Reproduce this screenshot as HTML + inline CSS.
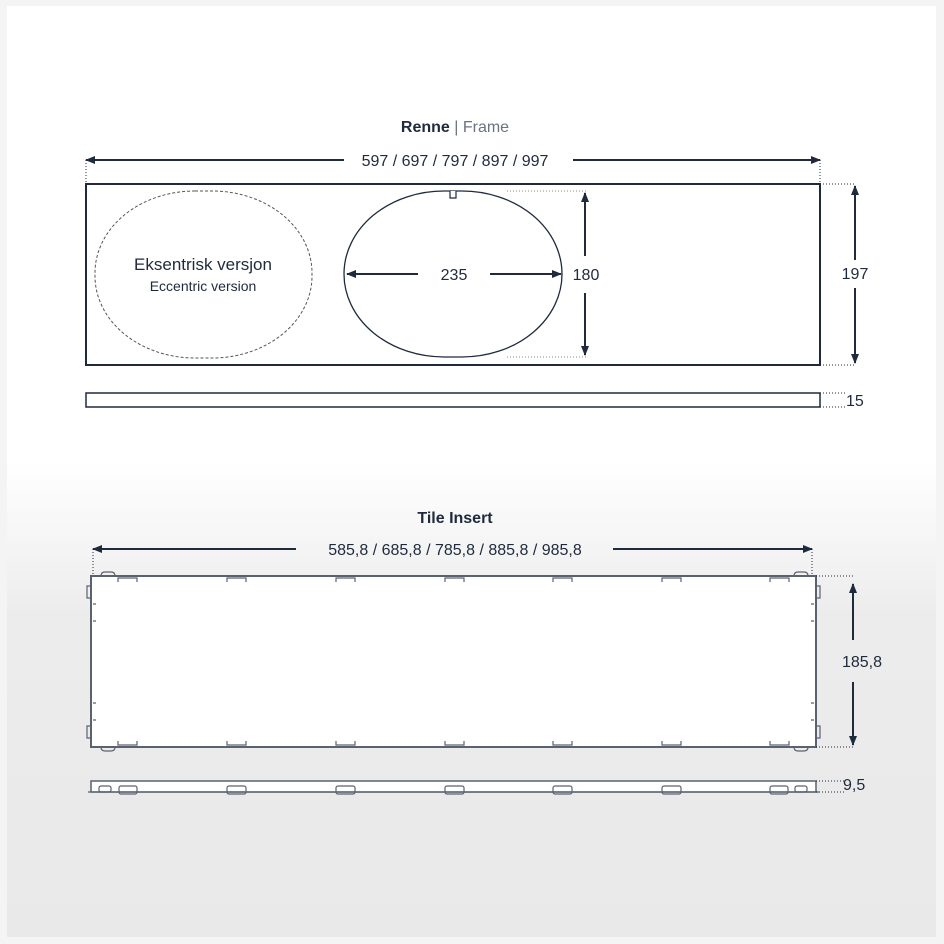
<!DOCTYPE html>
<html><head><style>
html,body{margin:0;padding:0;background:#f4f4f4;}
.c{position:absolute;left:7px;top:6px;width:929px;height:931px;background:linear-gradient(#fff 0,#fff 455px,#ececec 610px,#e9e9e9 931px);}
svg{position:absolute;left:0;top:0;}
text{font-family:"Liberation Sans",sans-serif;fill:#1f2a3c;}
</style></head><body>
<div class="c"></div>
<svg width="944" height="944" viewBox="0 0 944 944">
<defs>
<marker id="a" markerWidth="10" markerHeight="10" refX="9" refY="5" orient="auto-start-reverse" markerUnits="userSpaceOnUse"><path d="M0,1 L10,5 L0,9 Z" fill="#1f2a3c"/></marker>
</defs>
<g stroke="#1f2a3c" fill="none">
<text x="455" y="132" text-anchor="middle" font-size="16" font-weight="bold" stroke="none">Renne <tspan font-weight="normal" fill="#6b7280">| Frame</tspan></text>
<line x1="86" y1="160" x2="344" y2="160" stroke-width="2" marker-start="url(#a)"/>
<line x1="573" y1="160" x2="820" y2="160" stroke-width="2" marker-end="url(#a)"/>
<text x="455" y="166" text-anchor="middle" font-size="16" stroke="none">597 / 697 / 797 / 897 / 997</text>
<line x1="86" y1="160" x2="86" y2="184" stroke-width="1" stroke-dasharray="1 2"/>
<line x1="820" y1="160" x2="820" y2="184" stroke-width="1" stroke-dasharray="1 2"/>
<rect x="86" y="184" width="734" height="181" stroke-width="2"/>
<rect x="86" y="393" width="734" height="14" stroke-width="1.5"/>
<path d="M820 184 H855 M820 365 H855 M820 393 H845 M820 407 H845" stroke-width="1" stroke-dasharray="1 2"/>
<line x1="855" y1="186" x2="855" y2="260" stroke-width="2" marker-start="url(#a)"/>
<line x1="855" y1="288" x2="855" y2="363" stroke-width="2" marker-end="url(#a)"/>
<text x="855" y="279" text-anchor="middle" font-size="16" stroke="none">197</text>
<text x="846" y="406" font-size="16" stroke="none">15</text>
<rect x="95" y="191" width="217" height="167" rx="100" ry="82" stroke-width="1" stroke-dasharray="3 2" stroke="#555"/>
<text x="203" y="270" text-anchor="middle" font-size="17" stroke="none">Eksentrisk versjon</text>
<text x="203" y="291" text-anchor="middle" font-size="14" fill="#6b7280" stroke="none">Eccentric version</text>
<rect x="344" y="191" width="218" height="166" rx="100" ry="83" stroke-width="1.3"/>
<path d="M450 191 V198 H456 V191" stroke-width="1.2" fill="#fff"/>
<line x1="347" y1="274" x2="418" y2="274" stroke-width="2" marker-start="url(#a)"/>
<line x1="490" y1="274" x2="561" y2="274" stroke-width="2" marker-end="url(#a)"/>
<text x="454" y="280" text-anchor="middle" font-size="16" stroke="none">235</text>
<path d="M507 191 H586 M507 357 H586" stroke-width="1" stroke-dasharray="1 2" stroke="#888"/>
<line x1="585" y1="193" x2="585" y2="256" stroke-width="2" marker-start="url(#a)"/>
<line x1="585" y1="293" x2="585" y2="355" stroke-width="2" marker-end="url(#a)"/>
<text x="586" y="280" text-anchor="middle" font-size="16" stroke="none">180</text>
<text x="455" y="523" text-anchor="middle" font-size="16" font-weight="bold" stroke="none">Tile Insert</text>
<line x1="93" y1="549" x2="296" y2="549" stroke-width="2" marker-start="url(#a)"/>
<line x1="613" y1="549" x2="812" y2="549" stroke-width="2" marker-end="url(#a)"/>
<text x="455" y="555" text-anchor="middle" font-size="16" stroke="none">585,8 / 685,8 / 785,8 / 885,8 / 985,8</text>
<path d="M93 549 V576 M812 549 V576" stroke-width="1" stroke-dasharray="1 2"/>
<rect x="91" y="576" width="725" height="171" fill="#fff" stroke="#5a6270" stroke-width="2"/>
<g stroke="#5a6270" stroke-width="1.2">
<path d="M118 582 v-4 h19 v4 M227 582 v-4 h19 v4 M336 582 v-4 h19 v4 M445 582 v-4 h19 v4 M553 582 v-4 h19 v4 M662 582 v-4 h19 v4 M770 582 v-4 h19 v4"/>
<path d="M118 741 v4 h19 v-4 M227 741 v4 h19 v-4 M336 741 v4 h19 v-4 M445 741 v4 h19 v-4 M553 741 v4 h19 v-4 M662 741 v4 h19 v-4 M770 741 v4 h19 v-4"/>
<path d="M101 576 q0 -4 4 -4 h6 q4 0 4 4 M794 576 q0 -4 4 -4 h6 q4 0 4 4 M101 747 q0 4 4 4 h6 q4 0 4 -4 M794 747 q0 4 4 4 h6 q4 0 4 -4"/>
<path d="M91 586 h-4 v12 h4 M91 726 h-4 v12 h4 M816 586 h4 v12 h-4 M816 726 h4 v12 h-4"/>
<path d="M93 604 h3 M93 621 h3 M93 703 h3 M93 720 h3 M814 604 h-3 M814 621 h-3 M814 703 h-3 M814 720 h-3"/>
<rect x="91" y="781" width="725" height="11" fill="#fff" stroke-width="1.5"/>
<path d="M88 792 H819"/>
<rect x="99" y="786" width="12" height="6" rx="2"/><rect x="119" y="786" width="18" height="8" rx="2"/>
<rect x="227" y="786" width="19" height="8" rx="2"/><rect x="336" y="786" width="19" height="8" rx="2"/><rect x="445" y="786" width="19" height="8" rx="2"/><rect x="553" y="786" width="19" height="8" rx="2"/><rect x="662" y="786" width="19" height="8" rx="2"/><rect x="770" y="786" width="18" height="8" rx="2"/><rect x="795" y="786" width="12" height="6" rx="2"/>
</g>
<path d="M816 576 H855 M816 747 H855 M816 781 H845 M816 792 H845" stroke-width="1" stroke-dasharray="1 2"/>
<line x1="853" y1="584" x2="853" y2="640" stroke-width="2" marker-start="url(#a)"/>
<line x1="853" y1="682" x2="853" y2="745" stroke-width="2" marker-end="url(#a)"/>
<text x="862" y="667" text-anchor="middle" font-size="16" stroke="none">185,8</text>
<text x="843" y="790" font-size="16" stroke="none">9,5</text>
</g>
</svg>
</body></html>
